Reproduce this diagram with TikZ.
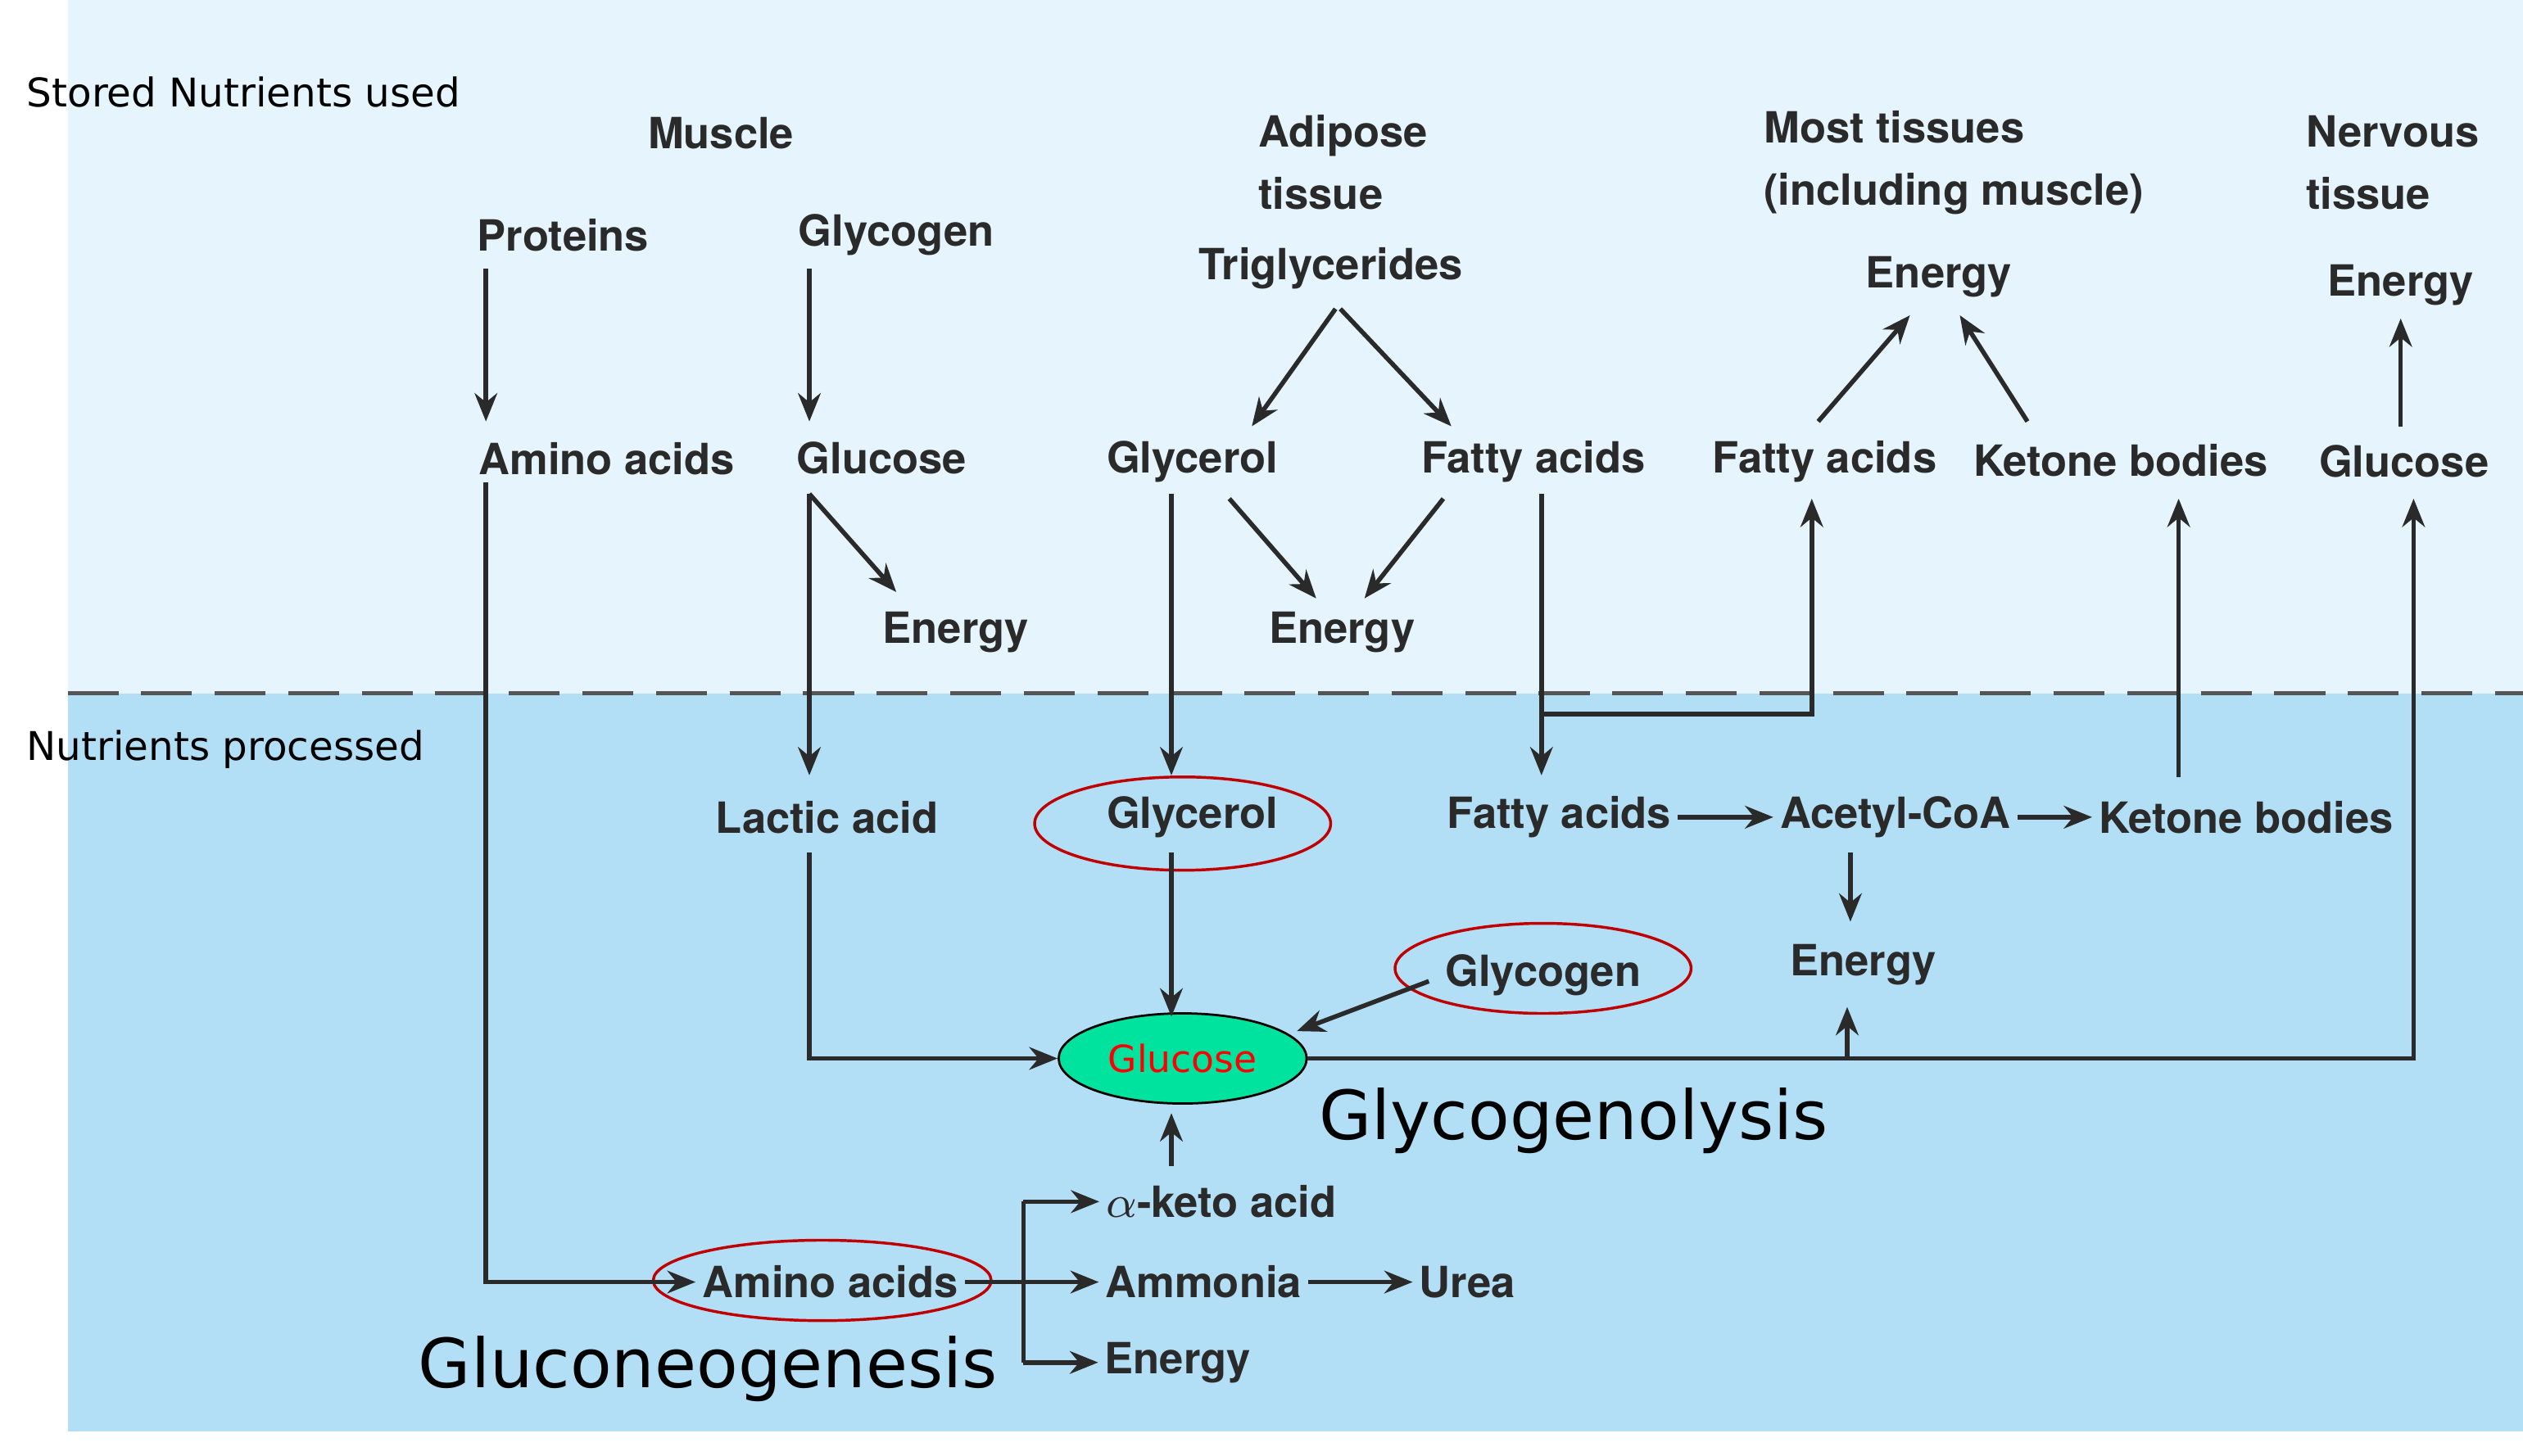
\documentclass[tikz,border=0pt]{standalone}
\usepackage{fontspec}
\setmainfont{TeX Gyre Heros}
\newfontfamily\tahoma{DejaVu Sans}
\usepackage{tikz}
\usetikzlibrary{arrows.meta,shapes.geometric}
\definecolor{topblue}{HTML}{E6F4FD}
\definecolor{lowblue}{HTML}{B3DFF6}
\definecolor{glucfill}{HTML}{00E39E}
\definecolor{linegray}{HTML}{2A2A2A}
\definecolor{ringred}{HTML}{C00000}
\begin{document}
\begin{tikzpicture}[x=0.01cm,y=-0.01cm,
  lbl/.style={font=\bfseries\fontsize{7.6}{9}\selectfont, text=linegray, inner sep=1pt, align=left},
  side/.style={font=\tahoma\fontsize{7.0}{9}\selectfont, anchor=west, inner sep=0pt},
  big/.style={font=\tahoma\fontsize{12}{14}\selectfont, inner sep=0pt},
  ring/.style={draw=ringred, line width=0.5pt},
  arr/.style={-{Stealth[length=5pt,width=4pt]}, draw=linegray, line width=0.8pt},
  ln/.style={draw=linegray, line width=0.8pt}]
\useasboundingbox (0,0) rectangle (1568,905);
\fill[topblue] (42,0) rectangle (1568,431);
\fill[lowblue] (42,431) rectangle (1568,890);
\draw[linegray!80, dash pattern=on 9pt off 4pt, line width=0.8pt] (42,431) -- (1568,431);

% headings
\node[side] at (16,57) {Stored Nutrients used};
\node[side] at (16,466) {Nutrients processed};
\node[lbl] at (448,83) {Muscle};
\node[lbl, anchor=west] at (778,101) {Adipose\\[2pt]tissue};
\node[lbl, anchor=west] at (1092,101) {Most tissues\\[2pt](including muscle)};
\node[lbl, anchor=west] at (1429,101) {Nervous\\[2pt]tissue};

% upper row
\node[lbl] (prot) at (350,146) {Proteins};
\node[lbl] (glyc) at (557,146) {Glycogen};
\node[lbl] (trig) at (827,167) {Triglycerides};
\node[lbl] (en3) at (1205,172) {Energy};
\node[lbl] (en4) at (1492,177) {Energy};
\node[lbl] (amino) at (377,285) {Amino acids};
\node[lbl] (gluc) at (548,285) {Glucose};
\node[lbl] (glyr) at (741,287) {Glycerol};
\node[lbl] (fat) at (953,287) {Fatty acids};
\node[lbl] (fat2) at (1134,287) {Fatty acids};
\node[lbl] (ket) at (1318,286) {Ketone bodies};
\node[lbl] (gluc2) at (1494,287) {Glucose};
\node[lbl] (en1) at (594,393) {Energy};
\node[lbl] (en2) at (834,393) {Energy};

% lower row
\node[lbl] (lact) at (514,508) {Lactic acid};
\node[lbl] (glyrb) at (741,508) {Glycerol};
\node[lbl] (fatb) at (969,508) {Fatty acids};
\node[lbl] (acet) at (1178,508) {Acetyl-CoA};
\node[lbl] (ketb) at (1396,508) {Ketone bodies};
\node[lbl] (glycb) at (959,606) {Glycogen};
\node[lbl] (en5) at (1158,600) {Energy};
\node[draw=black, fill=glucfill, ellipse, text=red, font=\tahoma\fontsize{6.6}{8}\selectfont,
  inner sep=0pt, minimum width=1.54cm, minimum height=0.56cm] (glucb) at (735,658) {Glucose};
\node[big] at (978,697) {Glycogenolysis};
\node[lbl] (keto) at (759,747) {$\alpha$-keto acid};
\node[lbl] (amm) at (748,797) {Ammonia};
\node[lbl] (urea) at (912,797) {Urea};
\node[lbl] (en6) at (732,847) {Energy};
\node[lbl] (aminob) at (516,797) {Amino acids};
\node[big] at (440,851) {Gluconeogenesis};

% red rings
\draw[ring] (735,512) ellipse [x radius=92, y radius=29];
\draw[ring] (959,602) ellipse [x radius=92, y radius=28];
\draw[ring] (511,796) ellipse [x radius=105, y radius=25];

% coordinates
\coordinate (split) at (636,797);
\coordinate (fork) at (958,444);
\coordinate (corner) at (1126,444);
\coordinate (lc) at (503,658);
\coordinate (rc) at (1500,658);
\coordinate (ec) at (1148,658);
\coordinate (ac) at (302,797);

% upper arrows
\draw[arr] (302,167) -- (302,262);
\draw[arr] (503,167) -- (503,262);
\draw[arr] (503,307) -- (557,368);
\draw[arr] (830,192) -- (778,265);
\draw[arr] (833,192) -- (902,265);
\draw[arr] (764,310) -- (818,372);
\draw[arr] (897,310) -- (848,372);
\draw[arr] (1130,262) -- (1187,196);
\draw[arr] (1260,262) -- (1218,196);
\draw[arr] (1492,265) -- (1492,198);

% across the line
\draw[arr] (503,307) -- (503,482);
\draw[arr] (728,307) -- (728,482);
\draw[arr] (958,307) -- (958,482);
\draw[arr] (fork) -- (corner) -- (1126,310);
\draw[arr] (1354,483) -- (1354,310);

% lower arrows
\draw[arr] (fatb.east) -- (acet.west);
\draw[arr] (acet.east) -- (ketb.west);
\draw[arr] (1150,530) -- (1150,573);
\draw[arr] (503,530) -- (lc) -- (glucb.west);
\draw[arr] (728,530) -- (728,632);
\draw[arr] (888,610) -- (806,641);
\draw[arr] (glucb.east) -- (rc) -- (1500,310);
\draw[arr] (ec) -- (1148,626);
\draw[arr] (302,300) -- (ac) -- (aminob.west);
\draw[ln] (aminob.east) -- (split);
\draw[ln] (636,747) -- (636,847);
\draw[arr] (636,747) -- (keto.west);
\draw[arr] (split) -- (amm.west);
\draw[arr] (636,847) -- (en6.west);
\draw[arr] (728,725) -- (728,692);
\draw[arr] (amm.east) -- (urea.west);
\end{tikzpicture}
\end{document}
